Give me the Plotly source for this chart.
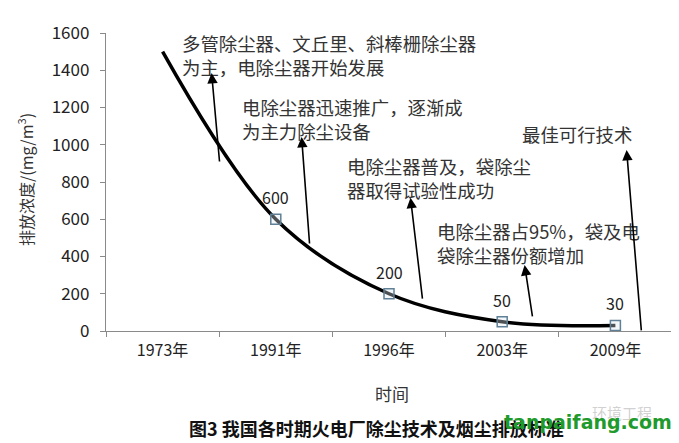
import plotly.graph_objects as go

categories = ["1973年", "1991年", "1996年", "2003年", "2009年"]
trend_values = [1500, 600, 200, 50, 30]
marker_categories = ["1991年", "1996年", "2003年", "2009年"]
marker_values = [600, 200, 50, 30]
marker_labels = ["600", "200", "50", "30"]
y_ticks = [0, 200, 400, 600, 800, 1000, 1200, 1400, 1600]

notes = [
    "多管除尘器、文丘里、斜棒栅除尘器<br>为主，电除尘器开始发展",
    "电除尘器迅速推广，逐渐成<br>为主力除尘设备",
    "电除尘器普及，袋除尘<br>器取得试验性成功",
    "电除尘器占95%，袋及电<br>袋除尘器份额增加",
    "最佳可行技术",
]

FONT = "Noto Sans CJK SC, Noto Sans, sans-serif"

# page body has an 8px margin, so the figure is drawn 8px right/down
OFF = 8
W, H = 679 - OFF, 443 - OFF
L, R, T, B = 106 - OFF, 7, 33 - OFF, 112

fig = go.Figure()
fig.add_trace(go.Scatter(
    x=categories, y=trend_values, mode="lines",
    line=dict(color="black", width=3.5, shape="spline", smoothing=1.0),
    showlegend=False, hoverinfo="skip",
))
fig.add_trace(go.Scatter(
    x=marker_categories, y=marker_values, mode="markers",
    marker=dict(symbol="square", size=10, color="rgba(220,232,240,0.35)",
                line=dict(color="#5f8096", width=1.5)),
    showlegend=False, cliponaxis=False,
))

annotations = []
# data labels
for c, v, lab in zip(marker_categories, marker_values, marker_labels):
    annotations.append(dict(
        x=c, y=v, xref="x", yref="y", text=lab, showarrow=False,
        yshift=22, font=dict(family=FONT, size=16, color="#222"),
    ))

# text annotations (x as category index, y in data units)
text_pos = [(0.150, 1482), (0.680, 1138), (1.608, 824), (2.403, 475), (3.154, 1058)]
for (tx, ty), t in zip(text_pos, notes):
    annotations.append(dict(
        x=tx, y=ty, xref="x", yref="y", text=t, showarrow=False,
        xanchor="left", yanchor="middle", align="left",
        font=dict(family=FONT, size=18.4, color="#333"),
    ))

# arrows: (head_x, head_y, tail_x, tail_y)
arrows = [
    (0.433, 1385, 0.504, 902),
    (1.228, 1042, 1.299, 462),
    (2.190, 715, 2.297, 166),
    (3.198, 354, 3.269, 70),
    (4.099, 972, 4.230, -5),
]
for hx, hy, tx, ty in arrows:
    annotations.append(dict(
        x=hx, y=hy, xref="x", yref="y", ax=tx, ay=ty, axref="x", ayref="y",
        text="", showarrow=True, arrowhead=2, arrowsize=1.3, arrowwidth=1.6,
        arrowcolor="black",
    ))

# axis titles, caption and watermark (placed by reference pixel position)
extra = [
    dict(x=25, y=180, text="排放浓度/(mg/m<sup>3</sup>)", textangle=-90,
         font=dict(family=FONT, size=16, color="#333")),
    dict(x=392, y=393, text="时间", font=dict(family=FONT, size=17, color="#333")),
    dict(x=376, y=428, text="<b>图3 我国各时期火电厂除尘技术及烟尘排放标准</b>",
         font=dict(family=FONT, size=18, color="#111")),
    dict(x=622, y=412, text="环境工程",
         font=dict(family=FONT, size=15, color="rgba(150,150,150,0.45)")),
    dict(x=588, y=422, text="<b>tanpaifang.com</b>",
         font=dict(family="DejaVu Sans, sans-serif", size=19, color="#1f9a2c")),
]
pw, ph = W - L - R, H - T - B
for a in extra:
    a["x"] = (a["x"] - OFF - L) / pw
    a["y"] = (H - B - (a["y"] - OFF)) / ph
    a.update(xref="paper", yref="paper", xanchor="center", yanchor="middle",
             showarrow=False)
    annotations.append(a)

fig.update_layout(
    width=W, height=H,
    margin=dict(l=L, r=R, t=T, b=B),
    paper_bgcolor="white", plot_bgcolor="white",
    font=dict(family=FONT, size=16, color="#222"),
    annotations=annotations,
    xaxis=dict(
        type="category", categoryorder="array", categoryarray=categories,
        range=[-0.5, 4.5], showgrid=False, showline=True, linecolor="#8a8a8a",
        linewidth=1.3, ticks="outside", tickson="boundaries", ticklen=5,
        tickcolor="#8a8a8a", tickfont=dict(family=FONT, size=16, color="#222"),
        ticklabelstandoff=5, zeroline=False,
    ),
    yaxis=dict(
        range=[0, 1600], tickvals=y_ticks, showgrid=False, showline=True,
        linecolor="#8a8a8a", linewidth=1.3, ticks="outside", ticklen=5,
        tickcolor="#8a8a8a", tickfont=dict(family=FONT, size=17, color="#222"),
        ticklabelstandoff=7, zeroline=False,
    ),
)

fig.write_html("out.html")
